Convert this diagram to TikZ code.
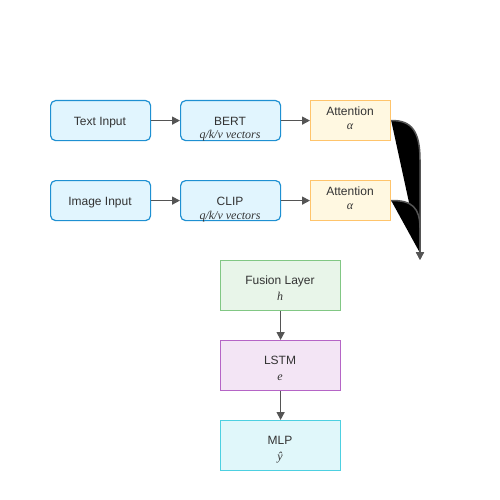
\documentclass[tikz,border=0pt]{standalone}
\usepackage{fontspec}
\setmainfont{Liberation Sans}
\newfontfamily\serifit{Liberation Serif}
\usetikzlibrary{arrows.meta}
\definecolor{bluefill}{HTML}{E1F5FE}
\definecolor{bluedraw}{HTML}{1E90D2}
\definecolor{attfill}{HTML}{FFF8E1}
\definecolor{attdraw}{HTML}{FFC46B}
\definecolor{fusfill}{HTML}{E8F5E9}
\definecolor{fusdraw}{HTML}{81C784}
\definecolor{lstmfill}{HTML}{F3E5F5}
\definecolor{lstmdraw}{HTML}{B565C6}
\definecolor{mlpfill}{HTML}{E0F7FA}
\definecolor{mlpdraw}{HTML}{4DD0E1}
\definecolor{txt}{HTML}{333333}
\definecolor{conncol}{HTML}{555555}
\tikzset{
  box/.style={rectangle, line width=1.2pt, inner sep=0pt, anchor=north west},
  inbox/.style={box, fill=bluefill, draw=bluedraw, rounded corners=5pt, minimum width=100pt, minimum height=40pt},
  attbox/.style={box, fill=attfill, draw=attdraw, minimum width=80pt, minimum height=40pt},
  bigbox/.style={box, minimum width=120pt, minimum height=50pt},
  lbl/.style={anchor=base, inner sep=0pt, text=txt, font=\fontsize{12pt}{14pt}\selectfont},
  sub/.style={anchor=base, inner sep=0pt, text=txt, font=\fontsize{12pt}{14pt}\selectfont\serifit\itshape},
  conn/.style={draw=conncol, line width=1.5pt, -{Triangle[length=8pt,width=8pt]}},
}
\begin{document}
\begin{tikzpicture}[x=1pt,y=-1pt]
\useasboundingbox (0,0) rectangle (500,500);
% row 1
\node[inbox] (ti) at (50,100) {};
\node[lbl] (til) at (100,125) {Text Input};
\node[inbox] (bert) at (180,100) {};
\node[lbl] (bertl) at (230,125) {BERT};
\node[sub] (berts) at (230,139) {q/k/v vectors};
\node[attbox] (att1) at (310,100) {};
\node[lbl] (att1l) at (350,115.5) {Attention};
\node[sub] (att1s) at (350,129.5) {α};
% row 2
\node[inbox] (ii) at (50,180) {};
\node[lbl] (iil) at (100,205) {Image Input};
\node[inbox] (clip) at (180,180) {};
\node[lbl] (clipl) at (230,205) {CLIP};
\node[sub] (clips) at (230,219) {q/k/v vectors};
\node[attbox] (att2) at (310,180) {};
\node[lbl] (att2l) at (350,195.5) {Attention};
\node[sub] (att2s) at (350,209.5) {α};
% column
\node[bigbox, fill=fusfill, draw=fusdraw] (fus) at (220,260) {};
\node[lbl] (fusl) at (280,284.5) {Fusion Layer};
\node[sub] (fuss) at (280,300) {h};
\node[bigbox, fill=lstmfill, draw=lstmdraw] (lstm) at (220,340) {};
\node[lbl] (lstml) at (280,364.5) {LSTM};
\node[sub] (lstms) at (280,380) {e};
\node[bigbox, fill=mlpfill, draw=mlpdraw] (mlp) at (220,420) {};
\node[lbl] (mlpl) at (280,444.5) {MLP};
\node[sub] (mlps) at (280,460) {ŷ};
% connectors
\draw[conn] (ti.east) -- (bert.west);
\draw[conn] (bert.east) -- (att1.west);
\draw[conn] (ii.east) -- (clip.west);
\draw[conn] (clip.east) -- (att2.west);
\draw[conn] (fus.south) -- (lstm.north);
\draw[conn] (lstm.south) -- (mlp.north);
% curved merges
\coordinate (m) at (420,260);
\coordinate (mf) at (420,253);
\fill[black] (att1.east) .. controls (412,120) and (420,132) .. (420,160) -- (mf) -- cycle;
\fill[black] (att2.east) .. controls (412,200) and (420,208) .. (420,228) -- (mf) -- cycle;
\draw[conn] (att1.east) .. controls (412,120) and (420,132) .. (420,160) -- (m);
\draw[conn] (att2.east) .. controls (412,200) and (420,208) .. (420,228) -- (m);
\end{tikzpicture}
\end{document}
